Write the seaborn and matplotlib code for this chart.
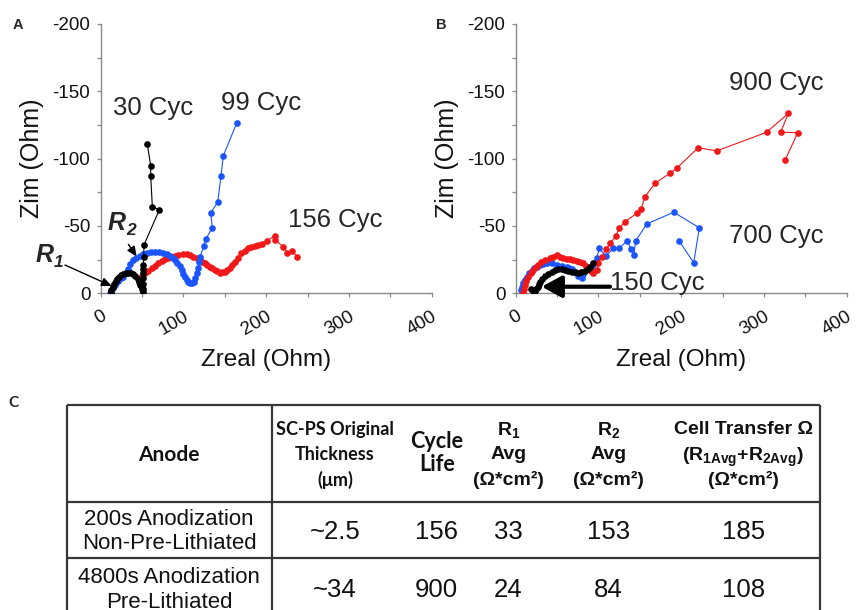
import numpy as np
import pandas as pd
import matplotlib
matplotlib.use('Agg')
import matplotlib.pyplot as plt
from matplotlib.ticker import MultipleLocator
import seaborn as sns

# ---------------- data ----------------
# Panel A
A30_re = [12, 13, 14.5, 16, 18, 20, 22, 24.5, 27, 30, 33.4, 36.5, 39.5, 42, 44.5, 46.5, 48, 49.5, 50.5, 51.5,
          51.5, 51.5, 51.5, 51.5, 51.5, 51.5, 52, 52.3, 70.8, 62.4, 60.4, 60.4, 56.3]
A30_im = [0, -2.5, -5, -7, -9, -10.5, -12, -13.3, -14.3, -15, -15.3, -15, -14, -12.5, -10.5, -8.5, -6.5, -5, -3, -1,
          -3.5, -7, -11, -15, -18, -21, -27, -35.9, -61.9, -64.4, -87.4, -94.8, -110.9]

A99_re = [11.5, 13, 15, 17, 19, 21, 24, 27.3, 30, 33, 36, 39.4, 43, 47, 51.5, 56, 61, 65.6, 70, 75, 79.7, 84, 87,
          89.8, 92.5, 95.5, 97.9, 100, 102, 103.9, 106, 108, 110.5, 112.7, 114.5, 116, 117.5, 119, 120,
          124.8, 126.9, 134.9, 132.9, 141.4, 145.4, 148.2, 164.3]
A99_im = [-0.5, -2, -4, -6, -8, -9.5, -11, -12.3, -15, -18, -21.5, -24.7, -26.5, -28, -29.2, -30, -30.5, -30.5,
          -30.5, -30, -29.2, -27.5, -26, -24.7, -22.5, -20, -17.3, -14.5, -12, -9.9, -8.2, -7.4, -7.6, -8.7, -11,
          -14.9, -19, -23, -27.2, -35.4, -40.1, -48.7, -59.9, -67.6, -87.4, -102.2, -126.3]

A156_re = [47.5, 50.5, 53.5, 57.5, 61.6, 65.5, 69.6, 73.5, 77.7, 81.5, 85.8, 89.5, 93.8, 99, 103.9, 108, 112, 116,
           120, 123, 126, 129, 132, 135, 138, 141, 144, 147, 150, 153, 156, 159, 162, 166, 170, 174, 178, 182,
           186.5, 190.5, 194.6, 200.6, 210.6, 210.6, 220.7, 225.5, 231, 237.6]
A156_im = [-11.1, -13, -14.9, -16.8, -18.6, -20.5, -22.3, -24, -25.3, -26.3, -27.2, -28, -28.5, -28.9, -29, -28.2,
           -27.2, -26, -24.7, -23.5, -22.3, -21, -19.8, -18.5, -17.3, -16.2, -15.3, -15.5, -16, -17.2, -18.6, -21,
           -23.5, -26.5, -29.7, -31.7, -33.4, -34.3, -35.1, -35.9, -36.6, -39, -42.6, -39.6, -34.6, -30.2, -31.7,
           -27.2]

# Panel B
B150_re = [19, 20.5, 22, 23.5, 25, 26.5, 28, 29.5, 32, 35.4, 39, 43.5, 47.5, 51.5, 55.5, 59.6, 63.5, 67.7, 71.5,
           75.7, 79.5, 83.8, 87, 89.9, 93]
B150_im = [-3, -1.5, -1, -1.5, -3, -5, -7, -8.7, -10.8, -12.9, -14.5, -16, -17, -17.8, -17.8, -17.3, -16.6, -16,
           -15.5, -15.3, -15.8, -16.8, -18, -19.8, -22.3]

B700_re = [6, 7.5, 9.2, 11, 13.3, 16, 19.3, 22, 25.4, 29, 33.4, 38, 43.5, 49.5, 55.6, 61.6, 64.5, 67.7, 71.7, 75.7,
           79.8, 81.8, 85.8, 91.8, 95, 97.9, 101, 108.8, 118, 124.8, 134.9, 139.3, 142.9, 145, 158.3, 190.9,
           221.9, 215.1, 197.2]
B700_im = [-2.5, -5, -7.4, -10, -12.3, -14.8, -16.8, -18.5, -19.8, -21, -21.8, -22.2, -22.3, -21, -20.5, -19.8, -19,
           -17.8, -16, -12.9, -11.1, -14.3, -19.8, -20.5, -22.3, -26, -33.4, -27.7, -33.4, -33.4, -39.1, -32.7,
           -28.5, -38.9, -51.5, -60.2, -48.7, -22.7, -39.1]

B900_re = [8.5, 9.8, 11.2, 13, 15.2, 18, 21.3, 24, 27.3, 31, 35.4, 41.4, 45.5, 49.5, 53.5, 57.5, 61.5, 65.6, 69.6,
           73.7, 77.7, 81.7, 85, 87.8, 91, 93.8, 97.8, 99.8, 103.9, 108.8, 114.2, 121, 125.2, 132.1, 146.2, 151.4,
           156.3, 168.4, 186.5, 194.6, 220.7, 242.8, 303.3, 329.5, 320.2, 340.8, 325.7]
B900_im = [-0.5, -3.5, -6.2, -9.3, -12.3, -15, -17.3, -19.3, -21, -23, -24.7, -26, -27.3, -28.5, -27.3, -26.4,
           -25.8, -25.3, -24.7, -24, -23.2, -22.3, -20.5, -18.6, -16.5, -14.9, -17.3, -22.3, -27.2, -32.7, -37.1,
           -42.6, -48.3, -53.2, -59.4, -62.4, -71.8, -81.7, -89.2, -92.9, -108.2, -105.7, -119.6, -133.7, -119.6,
           -119.3, -99]

XTICKS = [0, 100, 200, 300, 400]
YTICKS = [-200, -150, -100, -50, 0]

# Table C
tbl_anode = ['200s Anodization\nNon-Pre-Lithiated', '4800s Anodization\nPre-Lithiated']
tbl_thickness = ['~2.5', '~34']
tbl_cycle_life = ['156', '900']
tbl_r1 = ['33', '24']
tbl_r2 = ['153', '84']
tbl_cell = ['185', '108']

RED = '#f01818'
BLUE = '#1a55ff'
BLACK = '#000000'

# ---------------- style ----------------
sns.set_theme(style='ticks')
plt.rcParams['font.family'] = ['Liberation Sans', 'DejaVu Sans']
plt.rcParams['axes.unicode_minus'] = False
plt.rcParams['mathtext.fontset'] = 'custom'
plt.rcParams['mathtext.rm'] = 'Liberation Sans'
plt.rcParams['mathtext.it'] = 'Liberation Sans:italic:bold'
plt.rcParams['mathtext.bf'] = 'Liberation Sans:bold'

W, H = 856, 610
fig = plt.figure(figsize=(W / 100, H / 100), dpi=100)
fig.patch.set_facecolor('white')


def px_axes(x0, y0, x1, y1):
    return fig.add_axes([x0 / W, 1 - y1 / H, (x1 - x0) / W, (y1 - y0) / H])


def draw(ax, re, im, color, z):
    df = pd.DataFrame({'Zreal': re, 'Zim': im})
    sns.lineplot(data=df, x='Zreal', y='Zim', sort=False, estimator=None, color=color, lw=0.8,
                 marker='o', markersize=4.8, markeredgewidth=0, ax=ax, zorder=z)


def style(ax):
    ax.set_facecolor('white')
    ax.set_xlim(0, 400)
    ax.set_ylim(0, -200)
    ax.set_xticks(XTICKS)
    ax.set_yticks(YTICKS)
    ax.xaxis.set_minor_locator(MultipleLocator(50))
    ax.yaxis.set_minor_locator(MultipleLocator(25))
    for s in ['top', 'right']:
        ax.spines[s].set_visible(False)
    for s in ['left', 'bottom']:
        ax.spines[s].set_color('#8a8a8a')
        ax.spines[s].set_linewidth(1.0)
    ax.tick_params(which='both', direction='out', length=3, width=0.9, color='#8a8a8a')
    ax.tick_params(axis='y', labelsize=13.5, pad=4.5, labelcolor='#111111')
    ax.tick_params(axis='x', labelsize=13.5, pad=7.5, labelcolor='#111111')
    for lab in ax.get_xticklabels():
        lab.set_rotation(30)
        lab.set_ha('right')
        lab.set_va('top')
        lab.set_rotation_mode('anchor')
    ax.set_xlabel('Zreal (Ohm)', fontsize=17.5, labelpad=8, color='#111111')
    ax.set_ylabel('Zim (Ohm)', fontsize=18, labelpad=6, color='#111111')


axA = px_axes(100.7, 24, 431.7, 293.3)
axB = px_axes(515.7, 24, 846.7, 293.3)

draw(axA, A156_re, A156_im, RED, 3)
draw(axA, A99_re, A99_im, BLUE, 4)
draw(axA, A30_re, A30_im, BLACK, 5)
style(axA)

draw(axB, B700_re, B700_im, BLUE, 3)
draw(axB, B900_re, B900_im, RED, 4)
draw(axB, B150_re, B150_im, BLACK, 5)
style(axB)

# annotations panel A
cyc_fs = 18.5
axA.text(63.2, -132.5, '30 Cyc', fontsize=cyc_fs, ha='center', va='baseline')
axA.text(193.4, -136.2, '99 Cyc', fontsize=cyc_fs, ha='center', va='baseline')
axA.text(283.1, -49.5, '156 Cyc', fontsize=cyc_fs, ha='center', va='baseline')
rfont = dict(style='italic', weight='bold', clip_on=False)
axA.text(-57.3, -23.5, 'R', fontsize=18, ha='right', va='baseline', **rfont)
axA.text(-56.5, -19.8, '1', fontsize=12.5, ha='left', va='baseline', **rfont)
axA.text(30.6, -47, 'R', fontsize=18, ha='right', va='baseline', **rfont)
axA.text(31.0, -43.3, '2', fontsize=12.5, ha='left', va='baseline', **rfont)
axA.annotate('', xy=(13.3, -5.4), xytext=(-43.1, -21), annotation_clip=False,
             arrowprops=dict(arrowstyle='-|>,head_length=0.5,head_width=0.22', color='black', lw=1.0,
                             shrinkA=0, shrinkB=0, mutation_scale=12))
axA.annotate('', xy=(43.5, -27.2), xytext=(33.4, -36.4), annotation_clip=False,
             arrowprops=dict(arrowstyle='-|>,head_length=0.5,head_width=0.22', color='black', lw=1.0,
                             shrinkA=0, shrinkB=0, mutation_scale=12))

# annotations panel B
axB.text(315.4, -151, '900 Cyc', fontsize=cyc_fs, ha='center', va='baseline')
axB.text(315.4, -37.1, '700 Cyc', fontsize=cyc_fs, ha='center', va='baseline')
axB.text(170.7, -2.5, '150 Cyc', fontsize=cyc_fs, ha='center', va='baseline', zorder=6)
axB.annotate('', xy=(31.4, -4.9), xytext=(114, -4.9), annotation_clip=False,
             arrowprops=dict(arrowstyle='-|>,head_length=0.55,head_width=0.3', color='black', lw=3.0,
                             shrinkA=0, shrinkB=0, mutation_scale=22), zorder=6)

# panel letters
fig.text(18 / W, 1 - 25 / H, 'A', fontsize=10.5, weight='bold', ha='center', va='center')
fig.text(441 / W, 1 - 25 / H, 'B', fontsize=10.5, weight='bold', ha='center', va='center')
fig.text(13 / W, 1 - 403 / H, 'C', fontsize=11, weight='bold', ha='center', va='center',
         family=['Lato', 'DejaVu Sans'])

# ---------------- table C ----------------
axT = px_axes(67, 405, 820, 615)
axT.set_xlim(67, 820)
axT.set_ylim(615, 405)
axT.axis('off')
lc = '#383838'
lw = 1.6
for y in [405, 501.7, 558.3]:
    axT.plot([67, 820], [y, y], color=lc, lw=lw, clip_on=False, solid_capstyle='butt')
for x in [67, 271.7, 820]:
    axT.plot([x, x], [405, 615], color=lc, lw=lw, clip_on=False, solid_capstyle='butt')

lato = ['Lato', 'DejaVu Sans']
hdr = dict(ha='center', va='center', weight='bold', color='#111111')
axT.text(169, 455, 'Anode', fontsize=15, family=lato, **hdr)
axT.text(335, 430, 'SC-PS Original', fontsize=13, family=lato, **hdr)
axT.text(335, 455, 'Thickness', fontsize=13, family=lato, **hdr)
axT.text(335, 480, '(μm)', fontsize=13, family=lato, **hdr)
axT.text(436.7, 441.7, 'Cycle', fontsize=15.5, family=lato, **hdr)
axT.text(436.7, 465, 'Life', fontsize=15.5, family=lato, **hdr)
axT.text(508.3, 430, r'R$_{\mathbf{1}}$', fontsize=14, **hdr)
axT.text(508.3, 455, 'Avg', fontsize=14, **hdr)
axT.text(508.3, 480, '(Ω*cm²)', fontsize=14, **hdr)
axT.text(608.3, 430, r'R$_{\mathbf{2}}$', fontsize=14, **hdr)
axT.text(608.3, 455, 'Avg', fontsize=14, **hdr)
axT.text(608.3, 480, '(Ω*cm²)', fontsize=14, **hdr)
axT.text(743.3, 430, 'Cell Transfer Ω', fontsize=14, **hdr)
axT.text(743.3, 457, r'(R$_{\mathbf{1Avg}}$+R$_{\mathbf{2Avg}}$)', fontsize=14, **hdr)
axT.text(743.3, 480, '(Ω*cm²)', fontsize=14, **hdr)

row_y = [531.7, 590]
col_x = [335, 436.7, 508.3, 608.3, 743.3]
for i in range(2):
    axT.text(169, row_y[i], tbl_anode[i], fontsize=16, ha='center', va='center', linespacing=1.2,
             color='#111111', clip_on=False)
    for cx, vals in zip(col_x, [tbl_thickness, tbl_cycle_life, tbl_r1, tbl_r2, tbl_cell]):
        axT.text(cx, row_y[i], vals[i], fontsize=18.5, ha='center', va='center', color='#111111',
                 clip_on=False)

fig.savefig('out.png', dpi=100, facecolor='white')
